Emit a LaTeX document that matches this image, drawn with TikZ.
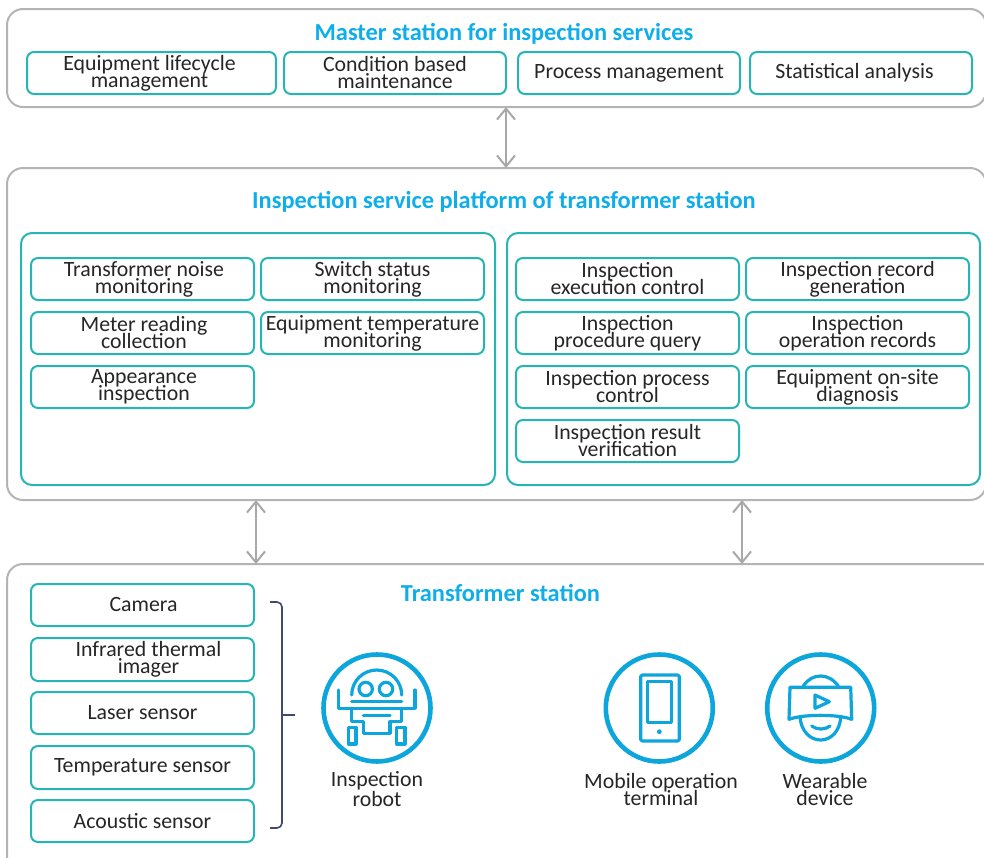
\documentclass[tikz,border=0pt]{standalone}
\usepackage{fontspec}
\setmainfont{Carlito}
\usetikzlibrary{arrows.meta}
\definecolor{teal1}{HTML}{25B5B5}
\definecolor{title1}{HTML}{0FAEEA}
\definecolor{icon1}{HTML}{0CA6DC}
\definecolor{grayb}{HTML}{B4B4B4}
\definecolor{grayarrow}{HTML}{A8A8A8}
\definecolor{brack}{HTML}{3F4B6B}
\definecolor{txt}{HTML}{262626}
\newcommand{\tightfont}{\fontsize{21.8}{17}\selectfont\lineskiplimit=-100pt\relax}
\tikzset{
  outer/.style={draw=grayb,line width=2pt,rounded corners=16pt,fill=white,inner sep=0pt,outer sep=0pt},
  panel/.style={draw=teal1,line width=2pt,rounded corners=11pt,inner sep=0pt,outer sep=0pt},
  tbox/.style={draw=teal1,line width=2pt,rounded corners=7pt,fill=white,inner sep=0pt,outer sep=0pt,align=center,text=txt,
    font=\tightfont},
  ttl/.style={text=title1,inner sep=0pt,font=\fontsize{24.4}{26}\bfseries\selectfont},
  lbl/.style={text=txt,inner sep=0pt,align=center,font=\tightfont},
  dbl/.style={draw=grayarrow,line width=2pt,{Straight Barb[length=11pt,width=18pt,line width=2pt]}-{Straight Barb[length=11pt,width=18pt,line width=2pt]}},
  ico/.style={draw=icon1,line width=3.2pt,line join=round,line cap=round},
  ring/.style={draw=icon1,line width=4.6pt,circle,minimum size=107pt,inner sep=0pt},
}
\newcommand{\tb}[6]{\node[tbox,minimum width=#3pt-#2pt,minimum height=#5pt-#4pt,anchor=north west] (#1) at (#2,#4) {#6};}
\begin{document}
\begin{tikzpicture}[x=1pt,y=-1pt]
\useasboundingbox (0,0) rectangle (984,857);
\clip (0,0) rectangle (984,857);
% outer frames
\node[outer,minimum width=979pt,minimum height=98pt,anchor=north west] (master) at (7,9) {};
\node[outer,minimum width=979pt,minimum height=332pt,anchor=north west] (platform) at (7,168) {};
\node[outer,minimum width=1000pt,minimum height=320pt,anchor=north west] (station) at (7,564) {};
% titles
\node[ttl] (t1) at (504,33.5) {Master station for inspection services};
\node[ttl] (t2) at (504,201.5) {Inspection service platform of transformer station};
\node[ttl] (t3) at (500.5,592.5) {Transformer station};
% master row
\tb{m1}{27}{276}{52}{94}{\hspace*{-4pt}Equipment lifecycle\\\hspace*{-4pt}management}
\tb{m2}{284}{506}{52}{94}{\raisebox{2pt}{Condition based}\\\raisebox{2pt}{maintenance}}
\tb{m3}{518}{740}{52}{94}{\raisebox{-3pt}{Process management}}
\tb{m4}{750}{972}{52}{94}{\raisebox{-1.5pt}{Statistical analysis}\hspace{13pt}}
% panels
\node[panel,minimum width=474pt,minimum height=252pt,anchor=north west] (pl) at (21,233) {};
\node[panel,minimum width=473pt,minimum height=252pt,anchor=north west] (pr) at (507,233) {};
% left panel
\tb{a1}{31}{254}{258}{300}{\hspace*{3pt}Transformer noise\\\hspace*{3pt}monitoring}
\tb{a2}{261}{484}{258}{300}{Switch status\\monitoring}
\tb{a3}{31}{254}{312}{354}{\hspace*{3pt}Meter reading\\\hspace*{3pt}collection}
\tb{a4}{261}{484}{312}{354}{Equipment temperature\\monitoring}
\tb{a5}{31}{254}{366}{408}{\hspace*{3pt}Appearance\\\hspace*{3pt}inspection}
% right panel
\tb{b1}{516}{739}{258}{300}{Inspection\\execution control}
\tb{b2}{746}{969}{258}{300}{Inspection record\\generation}
\tb{b3}{516}{739}{312}{354}{Inspection\\procedure query}
\tb{b4}{746}{969}{312}{354}{Inspection\\operation records}
\tb{b5}{516}{739}{366}{408}{Inspection process\\control}
\tb{b6}{746}{969}{366}{408}{Equipment on-site\\diagnosis}
\tb{b7}{516}{739}{420}{462}{Inspection result\\verification}
% station boxes
\tb{c1}{31}{254}{584}{626}{\raisebox{1pt}{\hspace*{2pt}Camera}}
\tb{c2}{31}{254}{638}{681}{\hspace*{12pt}Infrared thermal\\\hspace*{12pt}imager}
\tb{c3}{31}{254}{692}{734}{Laser sensor}
\tb{c4}{31}{254}{746}{789}{Temperature sensor}
\tb{c5}{31}{254}{800}{842}{Acoustic sensor}
% arrows
\coordinate (x1) at (506,0);
\coordinate (x2) at (256,0);
\coordinate (x3) at (742,0);
\draw[dbl] (master.south -| x1) -- (platform.north -| x1);
\draw[dbl] (platform.south -| x2) -- (station.north -| x2);
\draw[dbl] (platform.south -| x3) -- (station.north -| x3);
% bracket
\coordinate (bt) at (270,602);
\coordinate (bb) at (270,828);
\coordinate (bm) at (295,715);
\draw[brack,line width=1.6pt,rounded corners=5pt] (bt) -- (282,602) -- (282,828) -- (bb);
\draw[brack,line width=1.6pt] (282,715) -- (bm);
% rings
\node[ring] (r1) at (377,708) {};
\node[ring] (r2) at (659.3,708) {};
\node[ring] (r3) at (820.7,708) {};
% robot
\draw[ico] (351.7,695) .. controls (351.7,681.2) and (362.9,670) .. (376.7,670) .. controls (390.5,670) and (401.7,681.2) .. (401.7,695);
\draw[ico] (351.7,701.7) -- (401.7,701.7);
\draw[ico] (365.7,689) circle (6.7);
\draw[ico] (386,689) circle (6.7);
\draw[ico] (338.3,690) -- (338.3,708.3) -- (415,708.3) -- (415,690);
\draw[ico] (351.7,708.3) -- (351.7,721.7) -- (363.3,721.7) -- (363.3,733.3) -- (390,733.3) -- (390,721.7) -- (401.7,721.7) -- (401.7,708.3);
\draw[ico] (363.3,715.7) -- (390,715.7);
\draw[ico] (348.3,727.3) rectangle (356,744);
\draw[ico] (396.7,727.3) rectangle (405,744);
% phone
\draw[ico,rounded corners=1.5pt] (640.7,675) rectangle (679.3,741);
\draw[ico] (647.3,681.7) rectangle (671.7,722.3);
\fill[icon1] (659.3,731.7) circle (2.4);
% wearable
\draw[ico] (790,687.3) -- (850.7,687.3) -- (851.7,719.3) .. controls (838,714) and (803,714) .. (789,719.3) -- cycle;
\draw[ico] (803.3,686) .. controls (808,679) and (814,676) .. (820.7,676) .. controls (827,676) and (833,679) .. (838.3,686);
\draw[ico] (800,717) .. controls (801,731) and (810,740) .. (820.7,740) .. controls (831,740) and (840,731) .. (840.7,717);
\draw[ico] (811.7,726) .. controls (817,730) and (825,730) .. (830,726);
\draw[ico] (815,695) -- (829.3,701.7) -- (815,708.3) -- cycle;
% labels
\node[lbl] (l1) at (377,789) {Inspection\\[3pt]robot};
\node[lbl] (l2) at (661,789) {Mobile operation\\terminal};
\node[lbl] (l3) at (825,789) {Wearable\\device};
\end{tikzpicture}
\end{document}
